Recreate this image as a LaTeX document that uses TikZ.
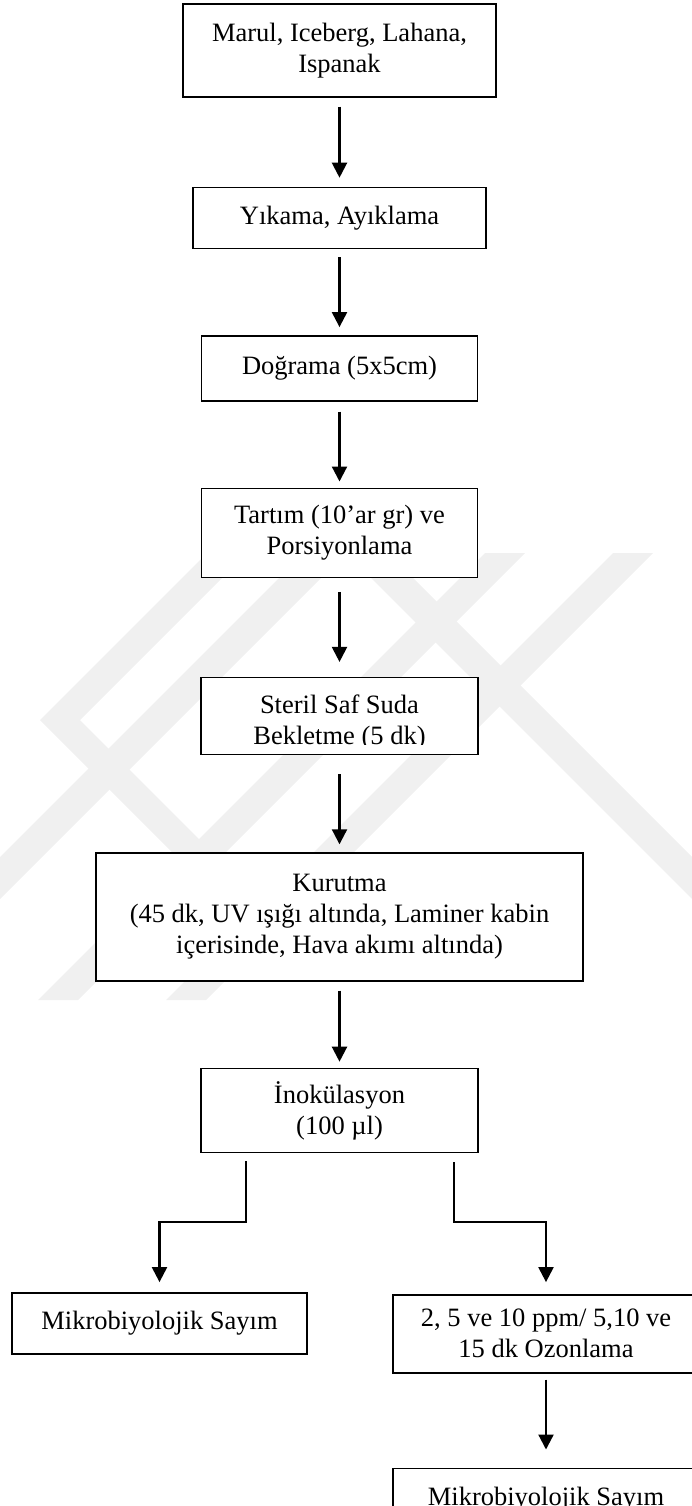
\documentclass[tikz,border=0pt]{standalone}
\usepackage{fontspec}
\setmainfont{Liberation Serif}
\usetikzlibrary{arrows.meta,positioning}
\definecolor{wmgray}{gray}{0.94}

\begin{document}
\begin{tikzpicture}[x=1pt, y=-1pt, >={Triangle[length=15pt,width=15pt]}]

	\tikzstyle{stepbox}=[draw, line width=1.4pt, fill=white, align=center,
	inner sep=0pt, font=\fontsize{26.5}{31}\selectfont]
	\tikzstyle{steptext}=[align=center, inner sep=0pt, font=\fontsize{26.5}{31}\selectfont]
	\tikzstyle{flow}=[->, line width=2.2pt]
	\tikzstyle{wmark}=[fill=wmgray, draw=none]

	\clip (0,0) rectangle (692,1506);

	% Faint watermark behind the chart
	\fill[wmark] (207,553) -- (247,553) -- (80,720) -- (240,880) -- (200,880) -- (40,720) -- cycle;
	\fill[wmark] (346,511) -- (835,1000) -- (793,1000) -- (346,553) -- (-101,1000) -- (-143,1000) -- cycle;
	\fill[wmark] (485,553) -- (525,553) -- (78,1000) -- (38,1000) -- cycle;
	\fill[wmark] (613,553) -- (653,553) -- (206,1000) -- (166,1000) -- cycle;

	% Main steps
	\node[stepbox, minimum width=313pt, minimum height=93pt] (raw) at (339.5,50.5)
	{Marul, Iceberg, Lahana,\\Ispanak};
	\node[stepbox, minimum width=293pt, minimum height=61pt, below=89pt of raw] (wash)
	{Yıkama, Ayıklama};
	\node[stepbox, minimum width=276pt, minimum height=65pt, below=86pt of wash] (chop)
	{Doğrama (5x5cm)};
	\node[stepbox, minimum width=276pt, minimum height=89pt, below=86pt of chop] (weigh)
	{Tartım (10’ar gr) ve\\Porsiyonlama};
	\node[stepbox, minimum width=277pt, minimum height=77pt, below=99pt of weigh] (steril) {};
	\begin{scope}
		\clip ([yshift=11pt]steril.south west) rectangle (steril.north east);
		\node[steptext, yshift=-6pt] (sterilt) at (steril.center)
		{Steril Saf Suda\\Bekletme (5 dk)};
	\end{scope}
	\node[stepbox, minimum width=487pt, minimum height=128pt, below=97pt of steril] (dry)
	{Kurutma\\(45 dk, UV ışığı altında, Laminer kabin\\içerisinde, Hava akımı altında)};
	\node[stepbox, minimum width=277pt, minimum height=84pt, below=86pt of dry] (inoc)
	{İnokülasyon\\(100 µl)};

	% Two branches
	\node[stepbox, minimum width=295pt, minimum height=61pt, below=139pt of inoc,
	xshift=-180pt] (countL) {Mikrobiyolojik Sayım};
	\node[stepbox, minimum width=306pt, minimum height=78pt, below=141pt of inoc,
	xshift=206.5pt] (ozone) {2, 5 ve 10 ppm/ 5,10 ve\\15 dk Ozonlama};
	\node[stepbox, minimum width=306pt, minimum height=61pt, below=94pt of ozone] (countR)
	{Mikrobiyolojik Sayım};

	% Flow arrows
	\draw[flow] ([yshift=-9pt]raw.south) -- ([yshift=9pt]wash.north);
	\draw[flow] ([yshift=-8pt]wash.south) -- ([yshift=8pt]chop.north);
	\draw[flow] ([yshift=-10pt]chop.south) -- ([yshift=6pt]weigh.north);
	\draw[flow] ([yshift=-14pt]weigh.south) -- ([yshift=15pt]steril.north);
	\draw[flow] ([yshift=-19pt]steril.south) -- ([yshift=8pt]dry.north);
	\draw[flow] ([yshift=-9pt]dry.south) -- ([yshift=6pt]inoc.north);
	\draw[flow] ([xshift=-93.5pt,yshift=-8pt]inoc.south) -- ++(0,61)
	-| ([yshift=10pt]countL.north);
	\draw[flow] ([xshift=114.5pt,yshift=-9pt]inoc.south) -- ++(0,60)
	-| ([yshift=12pt]ozone.north);
	\draw[flow] ([yshift=-6pt]ozone.south) -- ([yshift=18pt]countR.north);

\end{tikzpicture}
\end{document}
